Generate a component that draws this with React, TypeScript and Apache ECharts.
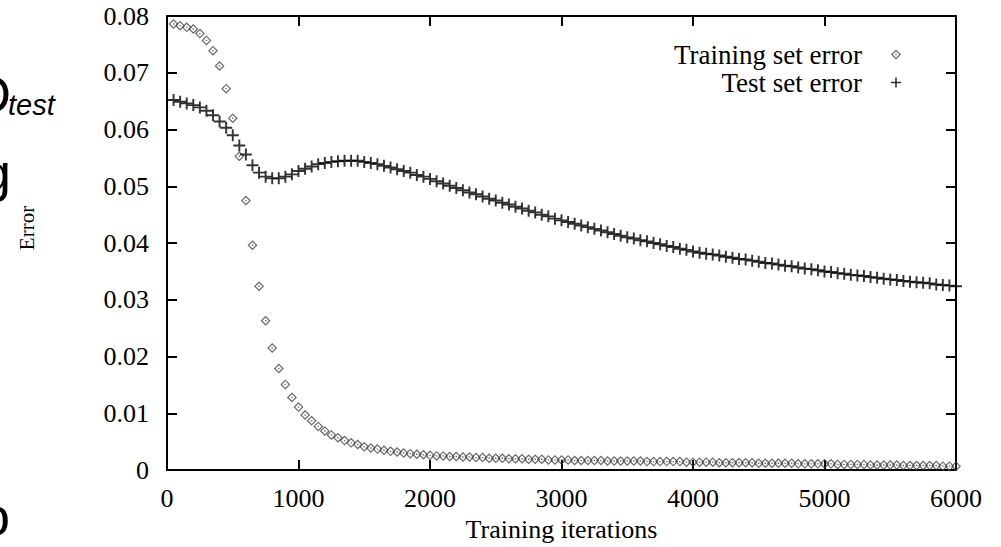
import React, { useEffect, useRef } from "react";
import * as echarts from "echarts";

const iterations = [
  50, 100, 150, 200, 250, 300, 350, 400, 450, 500,
  550, 600, 650, 700, 750, 800, 850, 900, 950, 1000,
  1050, 1100, 1150, 1200, 1250, 1300, 1350, 1400, 1450, 1500,
  1550, 1600, 1650, 1700, 1750, 1800, 1850, 1900, 1950, 2000,
  2050, 2100, 2150, 2200, 2250, 2300, 2350, 2400, 2450, 2500,
  2550, 2600, 2650, 2700, 2750, 2800, 2850, 2900, 2950, 3000,
  3050, 3100, 3150, 3200, 3250, 3300, 3350, 3400, 3450, 3500,
  3550, 3600, 3650, 3700, 3750, 3800, 3850, 3900, 3950, 4000,
  4050, 4100, 4150, 4200, 4250, 4300, 4350, 4400, 4450, 4500,
  4550, 4600, 4650, 4700, 4750, 4800, 4850, 4900, 4950, 5000,
  5050, 5100, 5150, 5200, 5250, 5300, 5350, 5400, 5450, 5500,
  5550, 5600, 5650, 5700, 5750, 5800, 5850, 5900, 5950, 6000,
];

const trainingError = [
  0.0786, 0.0783, 0.078, 0.0777, 0.0769, 0.0757, 0.0739, 0.0712, 0.0672, 0.062,
  0.0553, 0.0475, 0.0396, 0.0324, 0.0263, 0.0215, 0.0179, 0.0151, 0.0128, 0.0111,
  0.0097, 0.0087, 0.0077, 0.0069, 0.0062, 0.0057, 0.0052, 0.0048, 0.0045, 0.0041,
  0.0039, 0.0037, 0.0035, 0.0033, 0.0032, 0.003, 0.0029, 0.0028, 0.0027, 0.0026,
  0.0025, 0.0025, 0.0024, 0.0024, 0.0023, 0.0023, 0.0022, 0.0022, 0.0021, 0.0021,
  0.0021, 0.002, 0.002, 0.002, 0.0019, 0.0019, 0.0019, 0.0018, 0.0018, 0.0018,
  0.0018, 0.0017, 0.0017, 0.0017, 0.0017, 0.0017, 0.0016, 0.0016, 0.0016, 0.0016,
  0.0016, 0.0016, 0.0015, 0.0015, 0.0015, 0.0015, 0.0015, 0.0015, 0.0014, 0.0014,
  0.0014, 0.0014, 0.0014, 0.0013, 0.0013, 0.0013, 0.0013, 0.0013, 0.0013, 0.0012,
  0.0012, 0.0012, 0.0012, 0.0012, 0.0012, 0.0011, 0.0011, 0.0011, 0.0011, 0.0011,
  0.0011, 0.001, 0.001, 0.001, 0.001, 0.001, 0.0009, 0.0009, 0.0009, 0.0009,
  0.0009, 0.0008, 0.0008, 0.0008, 0.0008, 0.0008, 0.0008, 0.0007, 0.0007, 0.0007,
];

const testError = [
  0.0652, 0.0649, 0.0646, 0.0643, 0.0639, 0.0633, 0.0625, 0.0614, 0.0603, 0.059,
  0.0572, 0.0556, 0.0537, 0.0524, 0.0517, 0.0514, 0.0514, 0.0517, 0.0521, 0.0527,
  0.0531, 0.0535, 0.0539, 0.0541, 0.0543, 0.0544, 0.0545, 0.0545, 0.0545, 0.0543,
  0.0541, 0.0539, 0.0536, 0.0533, 0.053, 0.0527, 0.0524, 0.052, 0.0517, 0.0513,
  0.0509, 0.0505, 0.0501, 0.0497, 0.0493, 0.0489, 0.0486, 0.0482, 0.0478, 0.0475,
  0.0471, 0.0468, 0.0464, 0.0461, 0.0457, 0.0454, 0.045, 0.0447, 0.0443, 0.044,
  0.0437, 0.0434, 0.0431, 0.0428, 0.0425, 0.0422, 0.0419, 0.0416, 0.0413, 0.041,
  0.0408, 0.0405, 0.0403, 0.04, 0.0398, 0.0395, 0.0393, 0.039, 0.0388, 0.0385,
  0.0383, 0.0381, 0.038, 0.0378, 0.0376, 0.0374, 0.0372, 0.0371, 0.0369, 0.0367,
  0.0365, 0.0364, 0.0362, 0.036, 0.0359, 0.0357, 0.0355, 0.0354, 0.0352, 0.035,
  0.0349, 0.0347, 0.0346, 0.0344, 0.0343, 0.0342, 0.034, 0.0339, 0.0337, 0.0336,
  0.0335, 0.0333, 0.0332, 0.0331, 0.033, 0.0329, 0.0327, 0.0326, 0.0325, 0.0324,
];

const seriesNames = ["Training set error", "Test set error"];
const xAxisTitle = "Training iterations";
const yAxisTitle = "Error";

const SERIF = "'Liberation Serif', 'Times New Roman', serif";
const SANS = "'Liberation Sans', Arial, sans-serif";

const DIAMOND =
  "path://M5 0 L10 5 L5 10 L0 5 Z M5 1.7 L1.7 5 L5 8.3 L8.3 5 Z M4.3 4.3 L5.7 4.3 L5.7 5.7 L4.3 5.7 Z";
const PLUS =
  "path://M4.2 0 L5.8 0 L5.8 4.2 L10 4.2 L10 5.8 L5.8 5.8 L5.8 10 L4.2 10 L4.2 5.8 L0 5.8 L0 4.2 L4.2 4.2 Z";

export default function App() {
  const ref = useRef<HTMLDivElement>(null);

  useEffect(() => {
    if (!ref.current) return;
    const chart = echarts.init(ref.current, undefined, { renderer: "svg" });

    const trainData = iterations.map((x, i) => [x, trainingError[i]]);
    const testData = iterations.map((x, i) => [x, testError[i]]);

    const axisLine = { show: true, onZero: false, lineStyle: { color: "#000", width: 2 } };
    const axisTick = { show: true, inside: true, length: 10, lineStyle: { color: "#000", width: 2 } };

    chart.setOption({
      animation: false,
      backgroundColor: "#fff",
      grid: { left: 167, right: 45, top: 16, bottom: 72, containLabel: false },
      xAxis: [
        {
          type: "value",
          min: 0,
          max: 6000,
          interval: 1000,
          position: "bottom",
          name: xAxisTitle,
          nameLocation: "middle",
          nameGap: 44,
          nameTextStyle: { fontFamily: SERIF, fontSize: 26, color: "#000" },
          axisLine,
          axisTick,
          splitLine: { show: false },
          axisLabel: {
            fontFamily: SERIF,
            fontSize: 26,
            color: "#000",
            margin: 15,
            formatter: (v: number) => String(v),
          },
        },
        {
          type: "value",
          min: 0,
          max: 6000,
          interval: 1000,
          position: "top",
          axisLine,
          axisTick,
          splitLine: { show: false },
          axisLabel: { show: false },
        },
      ],
      yAxis: [
        {
          type: "value",
          min: 0,
          max: 0.08,
          interval: 0.01,
          position: "left",
          axisLine,
          axisTick,
          splitLine: { show: false },
          axisLabel: {
            fontFamily: SERIF,
            fontSize: 26,
            color: "#000",
            margin: 18,
            formatter: (v: number) => (v === 0 ? "0" : v.toFixed(2)),
          },
        },
        {
          type: "value",
          min: 0,
          max: 0.08,
          interval: 0.01,
          position: "right",
          axisLine,
          axisTick,
          splitLine: { show: false },
          axisLabel: { show: false },
        },
      ],
      legend: {
        orient: "vertical",
        right: 95,
        top: 36,
        align: "right",
        itemWidth: 58,
        itemHeight: 10,
        itemGap: 1,
        textStyle: { fontFamily: SERIF, fontSize: 27, color: "#000", lineHeight: 27 },
        data: [
          { name: seriesNames[0], icon: DIAMOND },
          { name: seriesNames[1], icon: PLUS },
        ],
      },
      series: [
        {
          name: seriesNames[0],
          type: "scatter",
          data: trainData,
          symbol: DIAMOND,
          symbolSize: 10,
          symbolKeepAspect: true,
          itemStyle: { color: "#444" },
          z: 2,
        },
        {
          name: seriesNames[1],
          type: "scatter",
          data: testData,
          symbol: PLUS,
          symbolSize: 12,
          symbolKeepAspect: true,
          itemStyle: { color: "#000" },
          z: 3,
        },
      ],
      graphic: [
        {
          type: "text",
          x: 27,
          y: 228,
          rotation: Math.PI / 2,
          style: {
            text: yAxisTitle,
            fontFamily: SERIF,
            fontSize: 21,
            fill: "#000",
            align: "center",
            verticalAlign: "middle",
          },
        },
        {
          type: "text",
          x: 11,
          y: 94,
          style: { text: "D", fontFamily: SANS, fontSize: 53, fill: "#000", align: "right", verticalAlign: "middle" },
        },
        {
          type: "text",
          x: 8,
          y: 105,
          style: { text: "test", fontFamily: SANS, fontStyle: "italic", fontSize: 29, fill: "#000", align: "left", verticalAlign: "middle" },
        },
        {
          type: "text",
          x: 11,
          y: 172,
          style: { text: "g", fontFamily: SANS, fontSize: 54, fill: "#000", align: "right", verticalAlign: "middle" },
        },
        {
          type: "text",
          x: 10,
          y: 516,
          style: { text: "o", fontFamily: SANS, fontSize: 54, fill: "#000", align: "right", verticalAlign: "middle" },
        },
      ],
    });

    return () => chart.dispose();
  }, []);

  return (
    <div
      ref={ref}
      style={{ position: "fixed", left: 0, top: 0, width: 1001, height: 547, background: "#fff" }}
    />
  );
}
